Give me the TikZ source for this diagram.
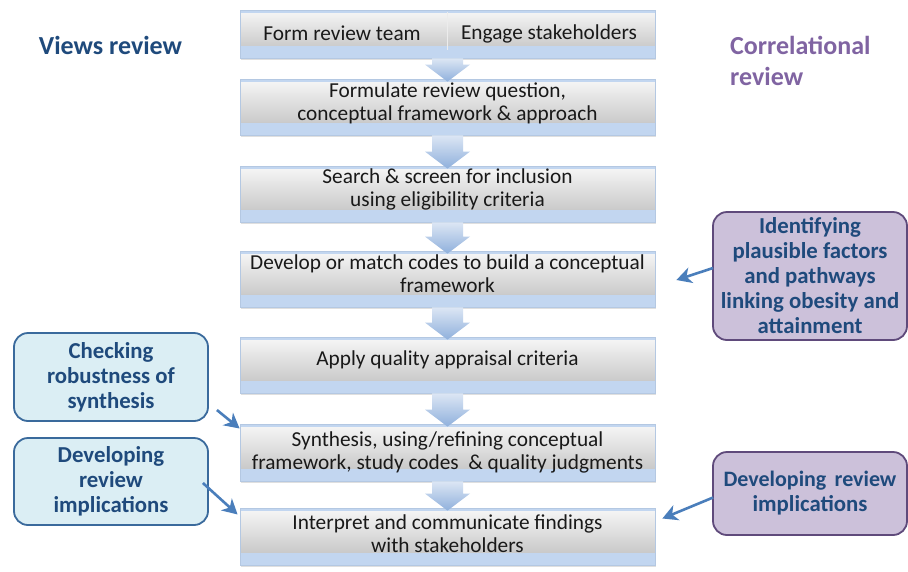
\documentclass[tikz,border=0pt]{standalone}
\usepackage{fontspec}
\setmainfont{Carlito}
\usetikzlibrary{arrows.meta,calc,shadows}
\definecolor{boxborder}{HTML}{B4C8E2}
\definecolor{grayTop}{HTML}{F7F7F7}
\definecolor{grayBot}{HTML}{BDBDBD}
\definecolor{bandblue}{HTML}{C2D6F0}
\definecolor{arrTop}{HTML}{DCE6F4}
\definecolor{arrBot}{HTML}{8FB0DC}
\definecolor{navy}{HTML}{1F4A7C}
\definecolor{purpletxt}{HTML}{8064A2}
\definecolor{lbfill}{HTML}{DBEEF4}
\definecolor{lbdraw}{HTML}{3A6A9C}
\definecolor{pfill}{HTML}{CCC1DA}
\definecolor{pdraw}{HTML}{5F4A7B}
\definecolor{callarr}{HTML}{4A7EBB}
\tikzset{
  mainbox/.style={draw=boxborder, line width=0.8pt, top color=grayTop, bottom color=grayBot,
    minimum width=415pt, inner sep=0pt,
    drop shadow={shadow xshift=1pt, shadow yshift=-2pt, opacity=0.25},
    path picture={
      \fill[bandblue] (path picture bounding box.south west) rectangle ([yshift=12pt]path picture bounding box.south east);
      \fill[bandblue] (path picture bounding box.north west) rectangle ([yshift=-2.5pt]path picture bounding box.north east);
    }},
  maintext/.style={font=\fontsize{21.3}{22.5}\selectfont, align=center, text=black!90, inner sep=0pt},
  calltext/.style={font=\fontsize{22.8}{25}\selectfont\bfseries, align=center, text=navy, inner sep=0pt},
  bluecall/.style={calltext, draw=lbdraw, fill=lbfill, line width=1.8pt, rounded corners=14pt},
  purplecall/.style={calltext, draw=pdraw, fill=pfill, line width=1.8pt, rounded corners=14pt},
  callarrow/.style={draw=callarr, line width=2.6pt, -{Stealth[length=15pt, width=16pt, inset=4.5pt]}},
  arrowshade/.style={top color=arrTop, bottom color=arrBot, draw=none},
  title/.style={font=\fontsize{26}{31}\selectfont\bfseries, inner sep=0pt}
}
\newcommand\flowarrow[2]{%
  \shade[arrowshade] let \p1=(#1.south), \p2=(#2.north) in
    (\x1-15.5pt,\y1) -- (\x1+15.5pt,\y1) -- (\x1+15.5pt,\y2+14pt) -- (\x1+22.5pt,\y2+14pt)
    -- (\x1,\y2-3pt) -- (\x1-22.5pt,\y2+14pt) -- (\x1-15.5pt,\y2+14pt) -- cycle;}
\begin{document}
\begin{tikzpicture}[x=1pt,y=-1pt]
\useasboundingbox (0,0) rectangle (908,571);
\fill[white] (0,0) rectangle (908,571);

% main boxes
\node[mainbox, minimum height=48pt] (b1) at (447.5,34) {};
\node[mainbox, minimum height=56pt] (b2) at (447.5,107) {};
\node[mainbox, minimum height=56pt] (b3) at (447.5,194) {};
\node[mainbox, minimum height=56pt] (b4) at (447.5,279) {};
\node[mainbox, minimum height=56pt] (b5) at (447.5,365) {};
\node[mainbox, minimum height=57pt] (b6) at (447.5,452.5) {};
\node[mainbox, minimum height=57pt] (b7) at (447.5,536.5) {};

\draw[white!85!gray, line width=0.8pt] ([yshift=-2.5pt]b1.north) -- ([yshift=8pt]b1.south);

% box texts
\node[maintext] (t1a) at (342,33.5) {Form review team};
\node[maintext] (t1b) at (549,33.5) {Engage stakeholders};
\node[maintext] (t2) at (447.5,103.5) {Formulate review question,\\conceptual framework \& approach};
\node[maintext] (t3) at (447.5,189.5) {Search \& screen for inclusion\\using eligibility criteria};
\node[maintext] (t4) at (447.5,273.5) {Develop or match codes to build a conceptual\\framework};
\node[maintext] (t5) at (447.5,359.5) {Apply quality appraisal criteria};
\node[maintext] (t6) at (447.5,452.5) {Synthesis, using/refining conceptual\\framework, study codes\ \ \& quality judgments};
\node[maintext] (t7) at (447.5,533.5) {Interpret and communicate findings\\with stakeholders};

% flow arrows
\flowarrow{b1}{b2}
\flowarrow{b2}{b3}
\flowarrow{b3}{b4}
\flowarrow{b4}{b5}
\flowarrow{b5}{b6}
\flowarrow{b6}{b7}

% titles
\node[title, text=navy] (vt) at (110.5,45) {Views review};
\node[title, text=purpletxt, align=left, anchor=west] (ct) at (730,60.5) {Correlational\\review};

% callouts
\node[bluecall, minimum width=194pt, minimum height=88pt] (c1) at (111,377) {Checking\\robustness of\\synthesis};
\node[bluecall, minimum width=194pt, minimum height=87pt] (c2) at (111,481.5) {Developing\\review\\implications};
\node[purplecall, minimum width=194pt, minimum height=128pt] (r1) at (810,276) {Identifying\\plausible factors\\and pathways\\linking obesity and\\attainment};
\node[purplecall, minimum width=194pt, minimum height=83pt] (r2) at (810,493.5) {\fontsize{22}{25}\selectfont Developing\hspace{0.15em} review\\implications};

% callout arrows
\coordinate (c1s) at ($(c1.east)+(8,33)$);
\coordinate (c2s) at ($(c2.east)+(-6,1.5)$);
\coordinate (r1s) at ($(r1.west)+(1,-8)$);
\coordinate (r2s) at ($(r2.west)+(1,4)$);
\draw[callarrow] (c1s) -- ($(b6.west)+(0,-24)$);
\draw[callarrow] (c2s) -- ($(b7.west)+(-2,-22)$);
\draw[callarrow] (r1s) -- ($(b4.east)+(21,1)$);
\draw[callarrow] (r2s) -- ($(b7.east)+(7,-18)$);
\end{tikzpicture}
\end{document}
